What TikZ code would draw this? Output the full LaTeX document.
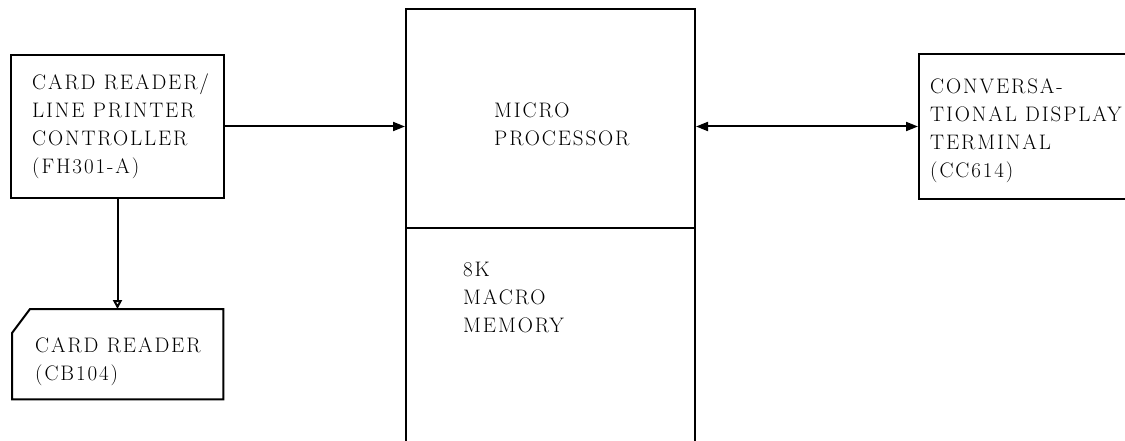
\documentclass[tikz,border=0pt]{standalone}
\usepackage{fontspec}
\setmainfont{Latin Modern Roman}[LetterSpace=9]
\usepackage{tikz}
\usetikzlibrary{arrows.meta}

\tikzset{
  box/.style={draw, line width=2pt, rectangle, inner sep=0pt, anchor=north west},
  lbl/.style={inner sep=0pt, anchor=west, align=left, font=\fontsize{21}{28}\selectfont},
  arr/.style={line width=2pt, -{Triangle[length=12pt,width=9pt]}},
}

\begin{document}
\begin{tikzpicture}[x=1pt, y=-1pt]
  \useasboundingbox (0,0) rectangle (1125,441);
  \clip (0,0) rectangle (1125,441);

  % boxes
  \node[box, minimum width=213pt, minimum height=143pt] (ctrl) at (10,54) {};
  \node[minimum width=211pt, minimum height=90pt, inner sep=0pt, anchor=north west] (reader) at (12,309) {};
  \draw[line width=2pt] (reader.south west) -- ([yshift=-24pt]reader.north west)
    -- ([xshift=18pt]reader.north west) -- (reader.north east)
    -- (reader.south east) -- cycle;
  \node[box, minimum width=289pt, minimum height=219pt] (micro) at (405,8) {};
  \node[box, minimum width=289pt, minimum height=240pt] (mem) at (405,227) {};
  \node[box, minimum width=240pt, minimum height=145pt] (term) at (918,53) {};

  % texts
  \node[lbl] (ctrltxt) at (32,126) {CARD READER/\\LINE PRINTER\\CONTROLLER\\(FH301-A)};
  \node[lbl] (readertxt) at (35,362) {CARD READER\\(CB104)};
  \node[lbl] (microtxt) at (494,124) {MICRO\\PROCESSOR};
  \node[lbl] (memtxt) at (463,297) {8K\\MACRO\\MEMORY};
  \node[lbl] (termtxt) at (930,131) {CONVERSA-\\TIONAL DISPLAY\\TERMINAL\\(CC614)};

  % connections
  \draw[arr] (ctrl.east) -- (ctrl.east -| micro.west);
  \draw[line width=2pt, -{Triangle[open,length=9pt,width=9pt]}] (ctrl.south) -- (ctrl.south |- reader.north);
  \draw[arr, {Triangle[length=12pt,width=9pt]}-{Triangle[length=12pt,width=9pt]}] (term.west -| micro.east) -- (term.west);
\end{tikzpicture}
\end{document}
